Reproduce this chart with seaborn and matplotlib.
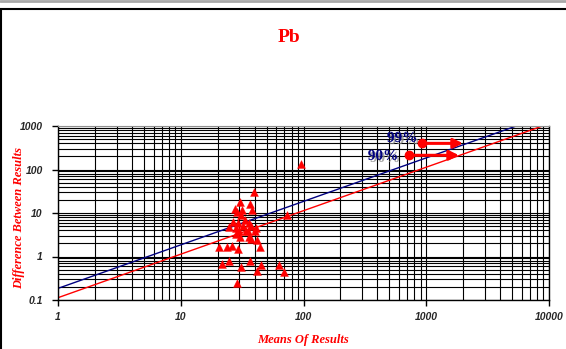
import matplotlib
matplotlib.use("Agg")
import matplotlib.pyplot as plt
import matplotlib.patheffects as pe
from matplotlib.patches import Rectangle
import seaborn as sns
import pandas as pd

# scatter values
means = [96, 39.2, 30.2, 36.6, 27.6, 31.7, 37.8, 28.7, 31.1, 26.6, 33.6, 29.4, 36.0,
         24.7, 28.0, 32.1, 37.2, 40.7, 29.8, 33.8, 35.4, 40.0, 28.0, 30.4, 36.0,
         37.2, 42.1, 73.7, 20.6, 24.0, 26.0, 29.5, 43.9, 21.8, 24.7, 31.1, 36.6,
         45.3, 41.8, 63.0, 70.0, 28.5]
diffs = [136, 31.1, 18.0, 16.2, 12.4, 12.0, 11.6, 10.8, 8.9, 6.05, 6.95, 5.84, 5.84,
         4.72, 4.48, 4.9, 5.05, 4.48, 3.83, 3.9, 3.76, 3.83, 3.27, 2.74, 2.83,
         2.47, 2.42, 8.9, 1.64, 1.62, 1.76, 1.5, 1.62, 0.68, 0.8, 0.58, 0.78,
         0.63, 0.455, 0.63, 0.44, 0.24]

# control limit lines (end points)
line_x = [1, 10000]
limit_90 = [0.113, 1130]
limit_99 = [0.185, 1850]

# annotation anchors
label_99 = ("99%", 635, 520, 923, 1992, 399)
label_90 = ("90%", 444, 201, 723, 1849, 212)

sns.set_style("white")
plt.rcParams['font.family'] = ['Liberation Sans', 'DejaVu Sans']

fig = plt.figure(figsize=(5.66, 3.49), dpi=100)
ax = fig.add_axes([58 / 566, 49 / 349, 491 / 566, 174 / 349])

# outer frame like the spreadsheet chart area
fig.patches.append(Rectangle((0.001, -0.01), 1.2, (349 - 8.5) / 349 + 0.01,
                             transform=fig.transFigure, fill=False,
                             edgecolor='black', lw=1.5, zorder=0))
fig.add_artist(plt.Line2D([0, 1], [0.997, 0.997], transform=fig.transFigure,
                          color='#a8a8a8', lw=2))

df = pd.DataFrame({'mean': means, 'diff': diffs})
lines = pd.DataFrame({'x': line_x * 2, 'y': limit_90 + limit_99,
                      'level': ['90%'] * 2 + ['99%'] * 2})

sns.lineplot(data=lines, x='x', y='y', hue='level',
             palette={'90%': '#ff0000', '99%': '#000080'},
             lw=1, legend=False, ax=ax)
sns.scatterplot(data=df, x='mean', y='diff', marker='^', color='#ff0000',
                s=32, edgecolor='#ff0000', linewidth=0.3, ax=ax, zorder=5)

ax.set_xscale('log')
ax.set_yscale('log')
ax.set_xlim(1, 10000)
ax.set_ylim(0.1, 1000)
ax.grid(which='both', color='black', lw=0.8)
ax.set_axisbelow(True)

ax.set_xticks([1, 10, 100, 1000, 10000])
ax.set_xticklabels(['1', '10', '100', '1000', '10000'])
ax.set_yticks([0.1, 1, 10, 100, 1000])
ax.set_yticklabels(['0.1', '1', '10', '100', '1000'])
ax.tick_params(which='major', direction='out', length=4, width=1, color='black',
               labelsize=7.5, pad=5, bottom=True, left=True)
ax.tick_params(axis='y', pad=7)
ax.tick_params(which='minor', length=0)
for lab in ax.get_xticklabels() + ax.get_yticklabels():
    lab.set_fontweight('bold')
    lab.set_fontstyle('italic')

for side in ['left', 'bottom', 'right']:
    ax.spines[side].set_color('black')
    ax.spines[side].set_linewidth(1)
ax.spines['top'].set_color('#909090')

lab_font = dict(family='Liberation Serif', weight='bold', style='italic',
                color='#ff0000', size=9)
ax.set_xlabel('Means Of Results', labelpad=8, **lab_font)
ax.set_ylabel('Difference Between Results', **lab_font)
ax.yaxis.set_label_coords(-0.068, 0.47)

fig.text(289 / 566, 1 - 38 / 349, 'Pb', ha='center', va='center',
         family='Liberation Serif', weight='bold', color='#ff0000', size=14)

shadow = [pe.SimplePatchShadow(offset=(1.5, -1.5), shadow_rgbFace='#909090', alpha=0.8),
          pe.Normal()]
for txt, tx, ty, x0, x1, yy in [label_99, label_90]:
    ax.text(tx, ty, txt, ha='center', va='center', family='Liberation Serif',
            weight='bold', color='#000080', size=11, path_effects=shadow, zorder=6)
    ax.annotate('', xy=(x1, yy), xytext=(x0, yy),
                arrowprops=dict(arrowstyle='-|>', color='#ff0000', lw=2.2,
                                mutation_scale=14, shrinkA=0, shrinkB=0), zorder=6)
    ax.plot([x0], [yy], marker='o', ms=6, color='#ff0000', zorder=7)

fig.savefig('out.png', dpi=100)
